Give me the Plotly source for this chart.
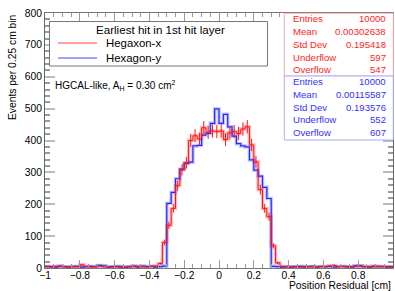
import numpy as np
import plotly.graph_objects as go

# ---------------- data ----------------
X_MIN, X_MAX, N_BINS = -1.0, 1.0, 80

red_left_tail = [4, 3, 5, 6, 4, 3, 5, 4, 10, 5, 3, 4, 6, 4, 2, 3, 4, 5, 3, 4, 6, 5, 4, 3, 5, 6]
red_core = [14, 80,
            134, 187, 258, 308, 330, 400, 415, 405, 440, 426, 430, 428,
            430, 403, 424, 428, 422, 436, 443, 386, 333, 246, 187, 161,
            70, 16]
red_right_tail = [5, 4, 3, 4, 3, 5, 4, 4, 3, 5, 4, 6, 8, 4, 5, 3, 4, 5, 7, 4, 3, 6, 4, 5, 4, 3]

blue_left_tail = [5, 4, 3, 5, 4, 3, 4, 5, 3, 4, 5, 4, 8, 7, 3, 4, 5, 3, 2, 4, 5, 3, 6, 4, 5, 3, 4, 6]
blue_core = [203, 237, 280, 310, 328, 332, 383, 385, 417, 422, 454, 499,
             454, 482, 443, 414, 390, 383, 380, 339, 307, 288, 253, 218]
blue_right_tail = [5, 4, 3, 4, 3, 4, 5, 3, 4, 5, 3, 4, 4, 5, 3, 4, 5, 4, 3, 7, 6, 4, 3, 4, 5, 4, 3, 4]

red_counts = red_left_tail + red_core + red_right_tail
blue_counts = blue_left_tail + blue_core + blue_right_tail

red_name = "Hegaxon-x"
blue_name = "Hexagon-y"
legend_title = "Earliest hit in 1st hit layer"
label_text = "HGCAL-like, A<sub>H</sub> = 0.30 cm<sup>2</sup>"

stat_labels = ["Entries", "Mean", "Std Dev", "Underflow", "Overflow"]
red_stats = ["10000", "0.00302638", "0.195418", "597", "547"]
blue_stats = ["10000", "0.00115587", "0.193576", "552", "607"]

x_title = "Position Residual [cm]"
y_title = "Events per 0.25 cm bin"

# ---------------- figure ----------------
W, H = 395, 291
ML, MR, MT, MB = 45, 2, 13, 23
PW, PH = W - ML - MR, H - MT - MB

def fx(px):
    return (px - ML) / PW

def fy(py):
    return (H - MB - py) / PH

edges = np.linspace(X_MIN, X_MAX, N_BINS + 1)
centers = 0.5 * (edges[:-1] + edges[1:])
red = np.array(red_counts, dtype=float)
blue = np.array(blue_counts, dtype=float)

RED = "rgb(255,20,20)"
BLUE = "rgb(40,40,255)"
FONT = "Liberation Sans, Arial, Helvetica, sans-serif"

fig = go.Figure()

def step(vals):
    return list(vals) + [vals[-1]]

# translucent shading
fig.add_trace(go.Scatter(x=edges, y=step(red), mode="lines", line_shape="hv",
                         line=dict(color="rgba(255,60,60,0.35)", width=3.5),
                         hoverinfo="skip", showlegend=False))
fig.add_trace(go.Scatter(x=edges, y=step(blue), mode="lines", line_shape="hv",
                         line=dict(color="rgba(60,60,255,0.3)", width=3.5),
                         hoverinfo="skip", showlegend=False))
# solid lines
fig.add_trace(go.Scatter(x=edges, y=step(blue), mode="lines", line_shape="hv",
                         line=dict(color=BLUE, width=1.2), name=blue_name, showlegend=False))
fig.add_trace(go.Scatter(x=edges, y=step(red), mode="lines", line_shape="hv",
                         line=dict(color=RED, width=1), name=red_name, showlegend=False))
fig.add_trace(go.Scatter(x=centers, y=red, mode="markers",
                         marker=dict(size=1, color="rgba(255,0,0,0)"),
                         error_y=dict(type="data", array=np.sqrt(red), width=0,
                                      thickness=1, color=RED),
                         hoverinfo="skip", showlegend=False))

shapes = []
annotations = []

# legend box
shapes.append(dict(type="rect", xref="paper", yref="paper",
                   x0=fx(49.5), x1=fx(267.5), y0=fy(66), y1=fy(21.5),
                   line=dict(color="#777", width=1), fillcolor="white", layer="above"))
annotations.append(dict(xref="paper", yref="paper", x=fx(160), y=fy(29),
                        text=legend_title, showarrow=False, xanchor="center", yanchor="middle",
                        font=dict(size=11.6, color="black", family=FONT)))
for name, col, py in [(red_name, "rgba(255,40,40,0.6)", 43), (blue_name, "rgba(40,40,255,0.6)", 58)]:
    shapes.append(dict(type="line", xref="paper", yref="paper",
                       x0=fx(58), x1=fx(97), y0=fy(py), y1=fy(py),
                       line=dict(color=col, width=1.5), layer="above"))
    annotations.append(dict(xref="paper", yref="paper", x=fx(104), y=fy(py),
                            text=name, showarrow=False, xanchor="left", yanchor="middle",
                            font=dict(size=11.4, color="black", family=FONT)))

annotations.append(dict(xref="paper", yref="paper", x=fx(53), y=fy(85),
                        text=label_text, showarrow=False, xanchor="left", yanchor="middle",
                        font=dict(size=10, color="black", family=FONT)))

# stats boxes
for (y0, y1, col, bcol, vals) in [(13.3, 76, "rgb(255,30,30)", "rgb(255,170,170)", red_stats),
                                  (76, 140, "rgb(50,50,255)", "rgb(170,170,255)", blue_stats)]:
    shapes.append(dict(type="rect", xref="paper", yref="paper",
                       x0=fx(284.3), x1=fx(393.3), y0=fy(y1), y1=fy(y0),
                       line=dict(color=bcol, width=1), fillcolor="white", layer="above"))
    for k, (lab, val) in enumerate(zip(stat_labels, vals)):
        py = y0 + 5.6 + k * 12.75
        annotations.append(dict(xref="paper", yref="paper", x=fx(290.5), y=fy(py),
                                text=lab, showarrow=False, xanchor="left", yanchor="middle",
                                font=dict(size=9.6, color=col, family=FONT)))
        annotations.append(dict(xref="paper", yref="paper", x=fx(388), y=fy(py),
                                text=val, showarrow=False, xanchor="right", yanchor="middle",
                                font=dict(size=9.6, color=col, family=FONT)))

# axis titles
annotations.append(dict(xref="paper", yref="paper", x=fx(393), y=fy(285.5),
                        text=x_title, showarrow=False, xanchor="right", yanchor="middle",
                        font=dict(size=10.3, color="black", family=FONT)))
annotations.append(dict(xref="paper", yref="paper", x=fx(12), y=fy(12),
                        text=y_title, showarrow=False, xanchor="center", yanchor="top",
                        textangle=-90,
                        font=dict(size=10.3, color="black", family=FONT)))

fig.update_layout(
    width=W, height=H,
    margin=dict(l=ML, r=MR, t=MT, b=MB, pad=0),
    paper_bgcolor="white", plot_bgcolor="white",
    showlegend=False,
    shapes=shapes, annotations=annotations,
    font=dict(family=FONT, size=10, color="black"),
)
fig.update_xaxes(range=[X_MIN, X_MAX], dtick=0.2, tick0=-1, ticks="inside", ticklen=8,
                 tickwidth=1, tickcolor="#999", showgrid=False, zeroline=False,
                 showline=True, linecolor="#777", linewidth=1, mirror="allticks",
                 automargin=False, ticklabelstandoff=-2,
                 tickfont=dict(size=10.3, family=FONT, color="black"),
                 minor=dict(dtick=0.05, ticks="inside", ticklen=4, tickcolor="#999", showgrid=False))
fig.update_yaxes(range=[0, 800], dtick=100, ticks="inside", ticklen=10,
                 tickwidth=1.5, tickcolor="#bbb", showgrid=False, zeroline=False,
                 showline=True, linecolor="#666", linewidth=1, mirror="allticks",
                 automargin=False,
                 tickfont=dict(size=10.3, family=FONT, color="black"),
                 minor=dict(dtick=20, ticks="inside", ticklen=5, tickcolor="#999", showgrid=False))

fig.write_html("out.html", config={"displayModeBar": False},
               post_script="document.body.style.margin='0px';document.body.style.overflow='hidden';")
